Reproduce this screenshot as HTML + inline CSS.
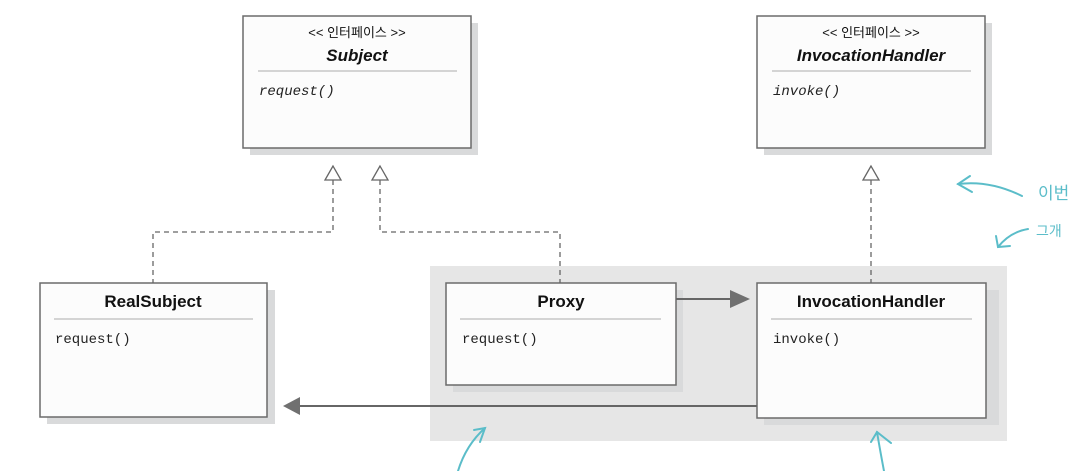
<!DOCTYPE html>
<html><head><meta charset="utf-8"><style>
body{margin:0;background:#fff;width:1070px;height:471px;overflow:hidden;position:relative;font-family:"Liberation Sans","Noto Sans CJK KR",sans-serif}
</style></head><body>
<svg width="1070" height="471" xmlns="http://www.w3.org/2000/svg" style="position:absolute;left:0;top:0">
<rect x="430" y="266" width="577" height="175" fill="#e6e6e6"/>
<!-- shadows -->
<g fill="#d9dadb">
<rect x="250" y="23" width="228" height="132"/>
<rect x="764" y="23" width="228" height="132"/>
<rect x="47" y="290" width="228" height="134"/>
<rect x="453" y="290" width="230" height="102"/>
<rect x="764" y="290" width="235" height="135"/>
</g>
<g fill="#fcfcfc" stroke="#6b6b6b" stroke-width="1.5">
<rect x="243" y="16" width="228" height="132"/>
<rect x="757" y="16" width="228" height="132"/>
<rect x="40" y="283" width="227" height="134"/>
<rect x="446" y="283" width="230" height="102"/>
<rect x="757" y="283" width="229" height="135"/>
</g>
<g stroke="#bdbdbd" stroke-width="1.2">
<line x1="258" y1="71" x2="457" y2="71"/>
<line x1="772" y1="71" x2="971" y2="71"/>
<line x1="54" y1="319" x2="253" y2="319"/>
<line x1="460" y1="319" x2="661" y2="319"/>
<line x1="771" y1="319" x2="972" y2="319"/>
</g>
<g fill="none" stroke="#666" stroke-width="1.3" stroke-dasharray="5,4">
<polyline points="333,180 333,232 153,232 153,283"/>
<polyline points="380,180 380,232 560,232 560,283"/>
<line x1="871" y1="180" x2="871" y2="283"/>
</g>
<g fill="#fff" stroke="#666" stroke-width="1.3">
<polygon points="333,166 325,180 341,180"/>
<polygon points="380,166 372,180 388,180"/>
<polygon points="871,166 863,180 879,180"/>
</g>
<line x1="676" y1="299" x2="732" y2="299" stroke="#666" stroke-width="2"/>
<polygon points="730,290 750,299 730,308" fill="#707070"/>
<line x1="757" y1="406" x2="298" y2="406" stroke="#666" stroke-width="2"/>
<polygon points="300,397 283,406 300,415" fill="#707070"/>
<g font-family="Liberation Sans,Noto Sans CJK KR,sans-serif" text-anchor="middle" fill="#111">
<text x="357" y="37" font-size="13">&lt;&lt; 인터페이스 &gt;&gt;</text>
<text x="357" y="61" font-size="17" font-weight="bold" font-style="italic">Subject</text>
<text x="871" y="37" font-size="13">&lt;&lt; 인터페이스 &gt;&gt;</text>
<text x="871" y="61" font-size="17" font-style="italic" font-weight="bold">InvocationHandler</text>
<text x="153" y="307" font-size="17" font-weight="bold">RealSubject</text>
<text x="561" y="307" font-size="17" font-weight="bold">Proxy</text>
<text x="871" y="307" font-size="17" font-weight="bold">InvocationHandler</text>
</g>
<g font-family="Liberation Mono,monospace" font-size="14" fill="#222">
<text x="259" y="95" font-style="italic">request()</text>
<text x="773" y="95" font-style="italic">invoke()</text>
<text x="55" y="343">request()</text>
<text x="462" y="343">request()</text>
<text x="773" y="343">invoke()</text>
</g>
<g fill="none" stroke="#5bbdc9" stroke-width="2" stroke-linecap="round">
<path d="M1022 196 Q990 180 958 184"/>
<path d="M970 176 L958 184 L972 192"/>
<path d="M1028 229 Q1010 232 998 247"/>
<path d="M996 236 L998 247 L1010 246"/>
<path d="M458 471 Q466 445 485 428"/>
<path d="M474 430 L485 428 L480 442"/>
<path d="M884 471 Q880 450 877 432"/>
<path d="M871 442 L877 432 L891 443"/>
</g>
<g font-family="Liberation Sans,Noto Sans CJK KR,sans-serif" fill="#5bbdc9">
<text x="1038" y="199" font-size="17">이번</text>
<text x="1036" y="236" font-size="14">그개</text>
</g>
</svg>
</body></html>
